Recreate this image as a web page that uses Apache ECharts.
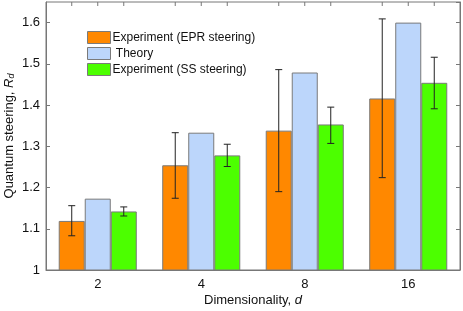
<!DOCTYPE html>
<html><head><meta charset="utf-8">
<script src="https://cdn.jsdelivr.net/npm/echarts@6/dist/echarts.min.js"></script>
<style>html,body{margin:0;padding:0;background:#fff}#c{width:463px;height:311px}</style>
</head><body><div id="c"></div>
<script>
const categories = ['2', '4', '8', '16'];
const seriesNames = ['Experiment (EPR steering)', ' Theory', 'Experiment (SS steering)'];
const eprValues = [1.119, 1.254, 1.338, 1.416];
const theoryValues = [1.173, 1.333, 1.479, 1.600];
const ssValues = [1.142, 1.278, 1.353, 1.454];
const eprErrLow = [1.083, 1.174, 1.190, 1.224];
const eprErrHigh = [1.156, 1.333, 1.486, 1.609];
const ssErrLow = [1.131, 1.251, 1.307, 1.391];
const ssErrHigh = [1.153, 1.305, 1.395, 1.516];
const yTicks = [1, 1.1, 1.2, 1.3, 1.4, 1.5, 1.6];

const GAP = 0.246;
const YMAX = 1.65;
const errData = [];
categories.forEach((c, i) => {
  errData.push([i, eprErrLow[i], eprErrHigh[i], 0]);
  errData.push([i, NaN, NaN, 1]);
  errData.push([i, ssErrLow[i], ssErrHigh[i], 2]);
});

const chart = echarts.init(document.getElementById('c'), null, {renderer: 'canvas'});
const font = 'Liberation Sans, Arial, sans-serif';
const barBase = {type: 'bar', barGap: '0%', barCategoryGap: (GAP * 100) + '%',
  itemStyle: {borderColor: '#7a7a7a', borderWidth: 1}};
chart.setOption({
  animation: false,
  textStyle: {fontFamily: font},
  grid: {left: 46, right: 3, top: 2, bottom: 41, show: true, borderColor: '#777', borderWidth: 1,
    containLabel: false, outerBoundsMode: 'none'},
  legend: {
    orient: 'vertical', left: 87, top: 31, padding: 0, itemWidth: 23, itemHeight: 12, itemGap: 3,
    icon: 'rect',
    itemStyle: {borderColor: '#7a7a7a', borderWidth: 1},
    textStyle: {fontSize: 12, color: '#111', fontFamily: font, padding: [0, 0, 0, -3]},
    data: seriesNames
  },
  graphic: [{
    type: 'text', x: 9, y: 136, rotation: Math.PI / 2,
    style: {
      text: 'Quantum steering, {i|R}{s|d}',
      font: '13px ' + font, fill: '#111', align: 'center', verticalAlign: 'middle',
      rich: {
        i: {fontStyle: 'italic', fontSize: 13, fontFamily: font, fill: '#111'},
        s: {fontStyle: 'italic', fontSize: 9, fontFamily: font, fill: '#111', verticalAlign: 'bottom'}
      }
    }
  }],
  xAxis: {
    type: 'category', data: categories,
    axisLine: {lineStyle: {color: '#777'}},
    axisTick: {show: false},
    axisLabel: {fontSize: 13, color: '#111', margin: 8},
    name: 'Dimensionality, {i|d}', nameLocation: 'middle', nameGap: 24, nameMoveOverlap: false,
    nameTextStyle: {fontSize: 13, color: '#111', rich: {i: {fontStyle: 'italic', fontSize: 13, color: '#111'}}}
  },
  yAxis: [{
    type: 'value', min: 1, max: YMAX, interval: 0.1,
    axisLine: {show: true, lineStyle: {color: '#777'}},
    axisTick: {show: true, inside: true, length: 4, lineStyle: {color: '#777'}},
    splitLine: {show: false},
    axisLabel: {fontSize: 13, color: '#111', margin: 6, showMaxLabel: false,
      formatter: v => (yTicks.some(t => Math.abs(t - v) < 1e-6) ? String(+v.toFixed(1)) : '')}
  }, {
    type: 'value', min: 1, max: YMAX, interval: 0.1, position: 'right',
    axisLine: {show: true, lineStyle: {color: '#777'}},
    axisTick: {show: true, inside: true, length: 4, lineStyle: {color: '#777'}},
    axisLabel: {show: false}, splitLine: {show: false}
  }],
  series: [
    Object.assign({}, barBase, {name: seriesNames[0], data: eprValues, itemStyle: Object.assign({}, barBase.itemStyle, {color: '#ff8800'})}),
    Object.assign({}, barBase, {name: seriesNames[1], data: theoryValues, itemStyle: Object.assign({}, barBase.itemStyle, {color: '#bcd6fb'})}),
    Object.assign({}, barBase, {name: seriesNames[2], data: ssValues, itemStyle: Object.assign({}, barBase.itemStyle, {color: '#4cff00'})}),
    {
      type: 'custom', name: 'err', data: errData, clip: false, z: 10,
      encode: {x: 0, y: [1, 2]},
      renderItem: function (params, api) {
        const band = api.size([1, 0])[0];
        const barW = band * (1 - GAP) / 3;
        const k = api.value(3);
        const cx = api.coord([api.value(0), 1])[0] + (k - 1) * barW;
        const topY = api.coord([api.value(0), YMAX])[1];
        const children = [{
          type: 'line', shape: {x1: cx, y1: topY, x2: cx, y2: topY + 4},
          style: {stroke: '#777', lineWidth: 1}
        }];
        const lo = api.value(1), hi = api.value(2);
        if (!isNaN(lo) && !isNaN(hi)) {
          const yl = api.coord([api.value(0), lo])[1];
          const yh = api.coord([api.value(0), hi])[1];
          const cap = 3.5;
          const st = {stroke: '#222', lineWidth: 1};
          children.push({type: 'line', shape: {x1: cx, y1: yl, x2: cx, y2: yh}, style: st});
          children.push({type: 'line', shape: {x1: cx - cap, y1: yl, x2: cx + cap, y2: yl}, style: st});
          children.push({type: 'line', shape: {x1: cx - cap, y1: yh, x2: cx + cap, y2: yh}, style: st});
        }
        return {type: 'group', children: children};
      }
    }
  ]
});
</script></body></html>
